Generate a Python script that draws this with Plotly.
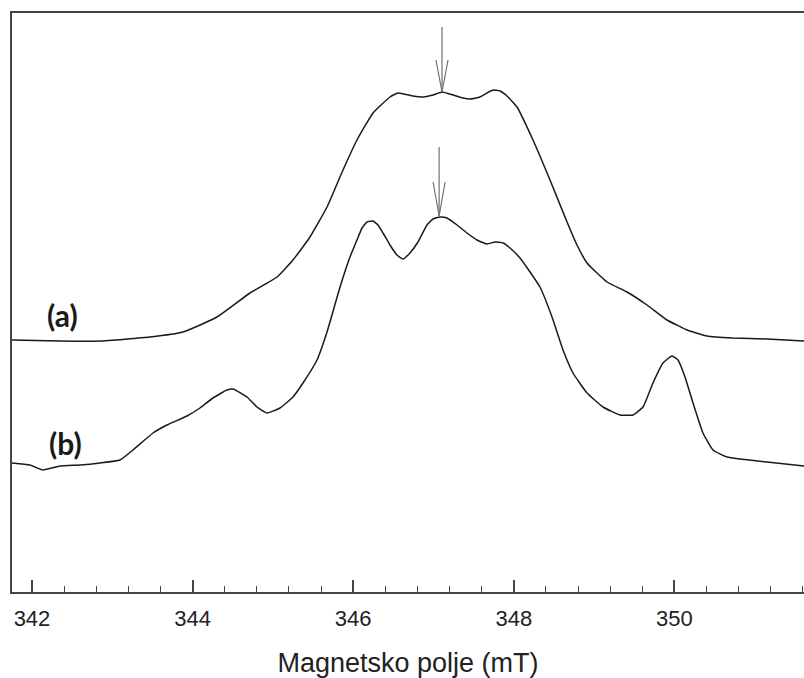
import plotly.graph_objects as go

# Magnetic field (mT) and intensity (arbitrary units)
field_a = [341.751, 342.349, 342.847, 343.470, 343.880, 344.304, 344.715, 345.051, 345.250, 345.462,
           345.674, 345.873, 346.047, 346.247, 346.458, 346.558, 346.745, 346.869, 346.994, 347.106,
           347.243, 347.367, 347.455, 347.579, 347.666, 347.741, 347.828, 347.915, 348.040, 348.239,
           348.451, 348.663, 348.787, 348.912, 349.161, 349.410, 349.659, 349.908, 350.157, 350.406,
           350.730, 351.153, 351.614]
signal_a = [252, 251, 251, 255, 260, 275, 299, 315, 332, 355,
            385, 422, 452, 479, 495, 499, 496, 495, 497, 500,
            497, 494, 493, 495, 499, 502, 501, 496, 485, 452,
            412, 370, 347, 329, 310, 300, 287, 272, 262, 256,
            254, 253, 251]

field_b = [341.751, 341.975, 342.137, 342.349, 342.598, 342.847, 343.096, 343.258, 343.507, 343.681,
           343.930, 344.092, 344.254, 344.428, 344.503, 344.677, 344.802, 344.927, 345.088, 345.250,
           345.375, 345.549, 345.674, 345.836, 345.960, 346.047, 346.110, 346.172, 346.247, 346.309,
           346.371, 346.458, 346.545, 346.620, 346.707, 346.807, 346.919, 346.994, 347.081, 347.168,
           347.293, 347.417, 347.542, 347.666, 347.766, 347.866, 347.953, 348.077, 348.202, 348.326,
           348.476, 348.613, 348.737, 348.912, 349.111, 349.323, 349.484, 349.609, 349.733, 349.858,
           349.970, 350.045, 350.132, 350.232, 350.356, 350.481, 350.655, 350.817, 351.153, 351.614]
signal_b = [129, 127, 122, 126, 127, 129, 132, 142, 159, 167,
            176, 184, 194, 202, 203, 195, 185, 179, 184, 195,
            209, 232, 260, 305, 335, 352, 364, 370, 371, 367,
            359, 347, 337, 333, 339, 350, 367, 373, 375, 374,
            367, 359, 352, 348, 350, 349, 344, 334, 320, 305,
            275, 242, 219, 199, 185, 177, 177, 185, 209, 229,
            236, 232, 215, 189, 159, 142, 135, 133, 130, 126]

# Arrow markers: field position, tip intensity, shaft top, head start
arrow_field = [347.106, 347.070]
arrow_tip = [500, 376]
arrow_top = [565, 445]
arrow_head = [532, 410]
head_half_width = 0.075

labels = ["(a)", "(b)"]
label_field = [342.386, 342.423]
label_signal = [277, 149]

fig = go.Figure()
for fx, fy in ((field_a, signal_a), (field_b, signal_b)):
    fig.add_trace(go.Scatter(x=fx, y=fy, mode="lines",
                             line=dict(color="#1a1a1a", width=1.5, shape="spline", smoothing=0.4),
                             hoverinfo="skip", showlegend=False))

for ax_, tip, top, hd in zip(arrow_field, arrow_tip, arrow_top, arrow_head):
    xs = [ax_, ax_, None, ax_ - head_half_width, ax_, ax_ + head_half_width]
    ys = [top, tip, None, hd, tip, hd]
    fig.add_trace(go.Scatter(x=xs, y=ys, mode="lines",
                             line=dict(color="#707070", width=1.2),
                             hoverinfo="skip", showlegend=False))

for t, lx, ly in zip(labels, label_field, label_signal):
    fig.add_annotation(x=lx, y=ly, text="<b>%s</b>" % t, showarrow=False,
                       font=dict(family="Lato, Open Sans, Arial", size=30, color="#1a1a1a"))

fig.update_layout(
    width=804, height=678,
    margin=dict(l=12, r=0, t=13, b=86),
    paper_bgcolor="white", plot_bgcolor="white",
    font=dict(family="Liberation Sans, Arial", color="#222"),
)
fig.update_xaxes(
    range=[341.751, 351.614], showgrid=False, zeroline=False,
    showline=True, linecolor="#444", linewidth=1.6, mirror=True,
    tick0=342, dtick=2, ticks="inside", ticklen=12, tickwidth=1.5, tickcolor="#444",
    minor=dict(ticks="inside", dtick=0.4, tick0=342, ticklen=6, tickwidth=1.2, tickcolor="#444"),
    tickfont=dict(size=22, color="#222"), ticklabelstandoff=6,
    title=dict(text="Magnetsko polje (mT)", font=dict(size=27, color="#222"), standoff=24),
)
fig.update_yaxes(
    range=[0, 579], showgrid=False, zeroline=False, showticklabels=False, ticks="",
    showline=True, linecolor="#444", linewidth=1.6, mirror=False,
)

fig.write_html("out.html", config={"displayModeBar": False},
               post_script="document.body.style.margin='0';document.body.style.overflow='hidden';")
